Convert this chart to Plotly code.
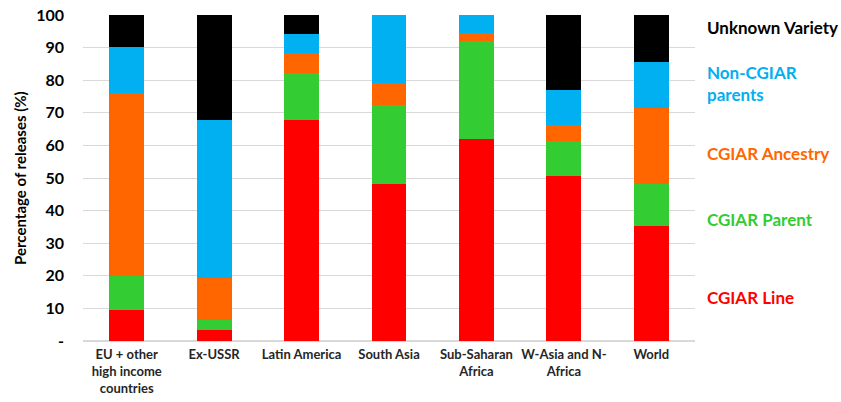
import plotly.graph_objects as go

categories = ["EU + other<br>high income<br>countries", "Ex-USSR", "Latin America", "South Asia",
              "Sub-Saharan<br>Africa", "W-Asia and N-<br>Africa", "World"]
cgiar_line = [9.6, 3.3, 67.8, 48.3, 62.1, 50.6, 35.3]
cgiar_parent = [10.2, 3.0, 14.4, 24.0, 29.8, 10.7, 13.0]
cgiar_ancestry = [56.3, 13.0, 6.0, 6.8, 2.6, 5.0, 23.1]
non_cgiar = [14.2, 48.4, 6.1, 20.9, 5.5, 10.8, 14.2]
unknown = [9.7, 32.3, 5.7, 0.0, 0.0, 22.9, 14.4]

series = [
    ("CGIAR Line", cgiar_line, "#FF0000"),
    ("CGIAR Parent", cgiar_parent, "#33CC33"),
    ("CGIAR Ancestry", cgiar_ancestry, "#FF6600"),
    ("Non-CGIAR parents", non_cgiar, "#00B0F0"),
    ("Unknown Variety", unknown, "#000000"),
]

ytickvals = [0, 10, 20, 30, 40, 50, 60, 70, 80, 90, 100]
yticktext = ["-", "10", "20", "30", "40", "50", "60", "70", "80", "90", "100"]

FONT = "Lato"
fig = go.Figure()
for name, vals, col in series:
    fig.add_trace(go.Bar(x=categories, y=vals, name=name, marker=dict(color=col, line=dict(width=0))))

labels = [
    ("Unknown Variety", 96.3, "#000000"),
    ("Non-CGIAR<br>parents", 79.1, "#00B0F0"),
    ("CGIAR Ancestry", 57.4, "#FF6600"),
    ("CGIAR Parent", 37.4, "#33CC33"),
    ("CGIAR Line", 13.2, "#FF0000"),
]
for txt, yy, col in labels:
    fig.add_annotation(text="<b>%s</b>" % txt, x=1.016, xref="paper", y=yy, yref="y",
                       xanchor="left", yanchor="middle", showarrow=False, align="left",
                       font=dict(family=FONT, size=17, color=col))

fig.add_annotation(text="<b>Percentage of releases (%)</b>", x=-0.103, xref="paper", y=0.5, yref="paper",
                   textangle=-90, showarrow=False, xanchor="center", yanchor="middle",
                   font=dict(family=FONT, size=15, color="#000000"))

fig.update_layout(
    barmode="stack", bargap=0.6, showlegend=False,
    width=841, height=402,
    margin=dict(l=83, r=146, t=15, b=61),
    plot_bgcolor="white", paper_bgcolor="white",
    font=dict(family=FONT, color="#262626"),
    xaxis=dict(tickfont=dict(family=FONT, size=13, color="#262626", weight="bold"), showline=False, ticks="",
               automargin=False, ticklabelstandoff=4),
    yaxis=dict(range=[0, 100], tickvals=ytickvals, ticktext=yticktext, automargin=False,
               tickfont=dict(family=FONT, size=16, color="#000000", weight="bold"), ticklabelstandoff=18,
               showgrid=True, gridcolor="#D9D9D9", gridwidth=1, zeroline=True, zerolinecolor="#D9D9D9"),
)
fig.write_html("out.html")
